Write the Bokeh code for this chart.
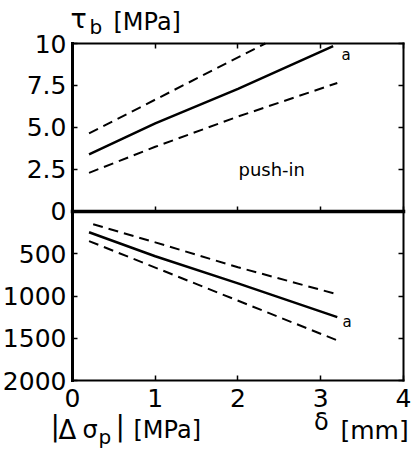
from bokeh.plotting import figure
from bokeh.models import Range1d, LinearAxis, FixedTicker, Label
from bokeh.embed import file_html
from bokeh.resources import INLINE

# bond stress tau_b [MPa] versus slip delta [mm]
tau_delta_mid = [0.2, 1.0, 2.0, 3.15]
tau_mid = [3.4, 5.25, 7.3, 9.85]
tau_delta_hi = [0.2, 2.33]
tau_hi = [4.65, 10.0]
tau_delta_lo = [0.2, 1.0, 2.0, 3.2]
tau_lo = [2.3, 3.85, 5.65, 7.65]

# prestress loss |delta sigma_p| [MPa] versus slip delta [mm]
sig_delta_mid = [0.2, 1.0, 2.0, 3.2]
sig_mid = [245, 530, 850, 1250]
sig_delta_hi = [0.25, 1.0, 2.0, 3.2]
sig_hi = [150, 365, 660, 980]
sig_delta_lo = [0.2, 3.25]
sig_lo = [350, 1545]

x_ticks = [0, 1, 2, 3, 4]
tau_ticks = [0, 2.5, 5, 7.5, 10]
tau_tick_labels = ["0", "2.5", "5.0", "7.5", "10"]
sig_ticks = [500, 1000, 1500, 2000]

FONT = "DejaVu Sans"

# one canvas-wide frame; both panels share the slip axis, the lower one
# runs downward from the common zero line on its own range
p = figure(width=413, height=451,
           x_range=Range1d(-0.870, 4.121), y_range=Range1d(-14.29, 12.56),
           x_axis_type=None, y_axis_type=None, output_backend="svg",
           toolbar_location=None, min_border=0)
p.extra_y_ranges = {"sigma": Range1d(start=2840, end=-2497)}
p.outline_line_color = None
p.grid.visible = False
p.background_fill_color = "white"
p.border_fill_color = "white"


def axis(ticks, fixed, bounds, line_width=2, tick_in=5, labels=False,
         size="25px", standoff=6, **kw):
    ax = LinearAxis(ticker=FixedTicker(ticks=ticks), fixed_location=fixed,
                    bounds=bounds, **kw)
    ax.axis_line_width = line_width
    ax.axis_line_color = "black"
    ax.axis_line_cap = "square"
    ax.major_tick_in = tick_in
    ax.major_tick_out = 0
    ax.major_tick_line_width = 1.5
    ax.minor_tick_line_color = None
    if labels:
        ax.major_label_text_font = FONT
        ax.major_label_text_font_size = size
        ax.major_label_text_color = "black"
        ax.major_label_standoff = standoff
    else:
        ax.major_label_text_font_size = "0px"
        ax.major_label_text_alpha = 0
    return ax


# frame of the upper panel
tau_left = axis(tau_ticks, 0, (0, 10), line_width=3, labels=True)
tau_left.major_label_overrides = {t: s for t, s in zip(tau_ticks, tau_tick_labels)}
p.add_layout(tau_left, "left")
p.add_layout(axis(tau_ticks, 4, (0, 10)), "right")
p.add_layout(axis(x_ticks, 10, (0, 4)), "above")
p.add_layout(axis(x_ticks, 0, (0, 4), line_width=3.5), "below")

# frame of the lower panel
p.add_layout(axis(sig_ticks, 0, (0, 2000), line_width=3, labels=True,
                  y_range_name="sigma"), "left")
p.add_layout(axis(sig_ticks, 4, (0, 2000), y_range_name="sigma"), "right")
p.add_layout(axis(x_ticks, 2000, (0, 4), labels=True, standoff=8,
                  y_range_name="sigma"), "below")

p.line(tau_delta_mid, tau_mid, line_color="black", line_width=2.5)
p.line(tau_delta_hi, tau_hi, line_color="black", line_width=2, line_dash="10 6")
p.line(tau_delta_lo, tau_lo, line_color="black", line_width=2, line_dash="10 6")

p.line(sig_delta_mid, sig_mid, line_color="black", line_width=2.5, y_range_name="sigma")
p.line(sig_delta_hi, sig_hi, line_color="black", line_width=2, line_dash="10 6",
       y_range_name="sigma")
p.line(sig_delta_lo, sig_lo, line_color="black", line_width=2, line_dash="10 6",
       y_range_name="sigma")


def label(txt, x, y, size, rng="default"):
    p.add_layout(Label(x=x, y=y, text=txt, text_font=FONT, text_font_size=size,
                       text_color="black", text_baseline="alphabetic",
                       y_range_name=rng))


# upper panel texts
label("τ", -0.024, 11.5, "27px")
label("b", 0.205, 11.0, "20px")
label("[MPa]", 0.495, 11.26, "24px")
label("push-in", 2.006, 2.51, "18px")
label("a", 3.25, 9.29, "15px")

# lower panel texts
label("|", -0.266, 2539, "28px", "sigma")
label("Δ", -0.169, 2582, "26px", "sigma")
label("σ", 0.121, 2589, "24px", "sigma")
label("p", 0.314, 2665, "20px", "sigma")
label("|", 0.520, 2539, "28px", "sigma")
label("[MPa]", 0.737, 2589, "24px", "sigma")
label("δ", 2.92, 2495, "24px", "sigma")
label("[mm]", 3.239, 2586, "25px", "sigma")
label("a", 3.263, 1312, "15px", "sigma")

open("out.html", "w").write(file_html(p, INLINE))
